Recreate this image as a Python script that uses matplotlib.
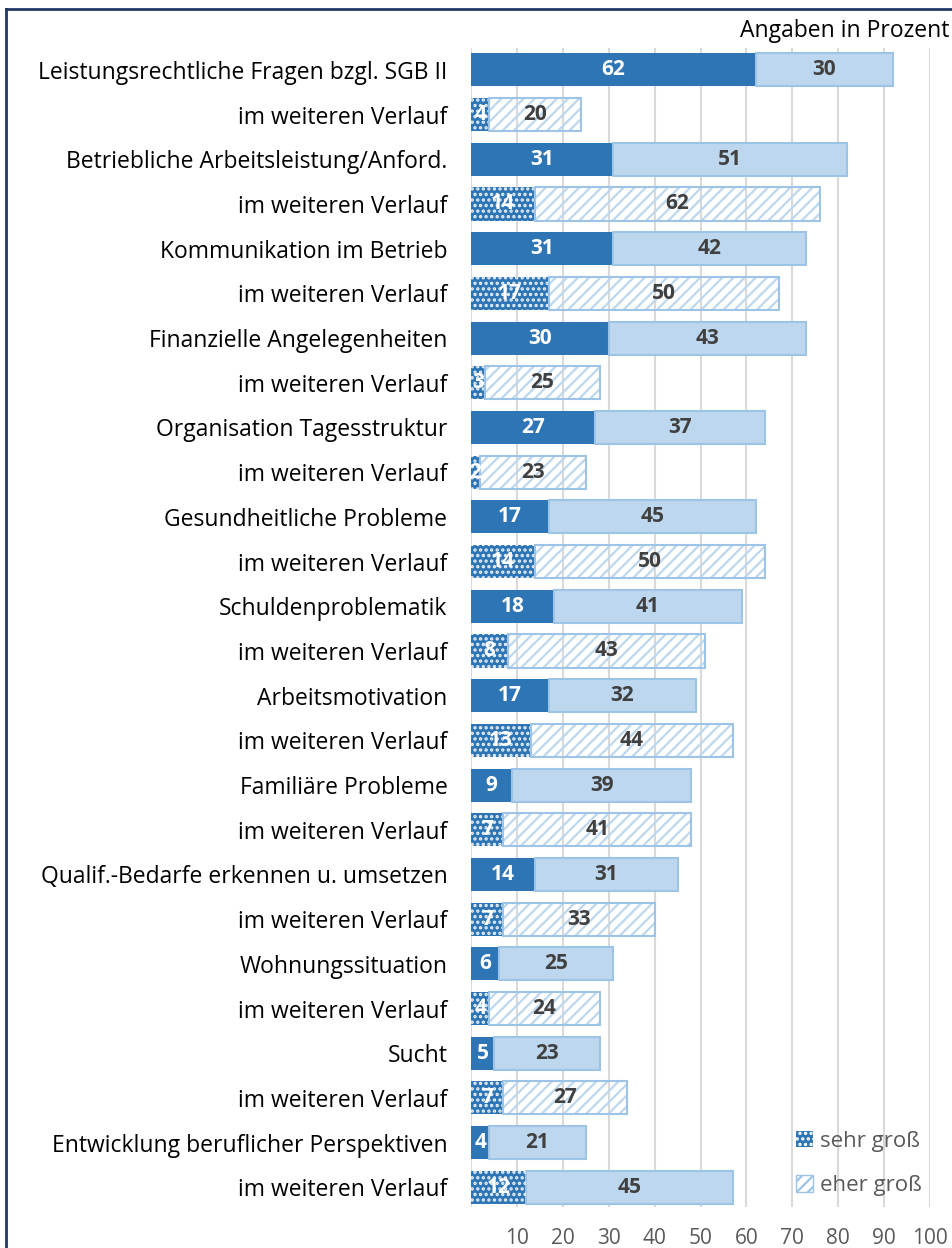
import numpy as np
import matplotlib.pyplot as plt
from matplotlib.lines import Line2D
from matplotlib.patches import Patch

plt.rcParams['font.family'] = ['Open Sans', 'DejaVu Sans']
plt.rcParams['hatch.linewidth'] = 1.6

labels = [
    "Leistungsrechtliche Fragen bzgl. SGB II", "im weiteren Verlauf",
    "Betriebliche Arbeitsleistung/Anford.", "im weiteren Verlauf",
    "Kommunikation im Betrieb", "im weiteren Verlauf",
    "Finanzielle Angelegenheiten", "im weiteren Verlauf",
    "Organisation Tagesstruktur", "im weiteren Verlauf",
    "Gesundheitliche Probleme", "im weiteren Verlauf",
    "Schuldenproblematik", "im weiteren Verlauf",
    "Arbeitsmotivation", "im weiteren Verlauf",
    "Familiäre Probleme", "im weiteren Verlauf",
    "Qualif.-Bedarfe erkennen u. umsetzen", "im weiteren Verlauf",
    "Wohnungssituation", "im weiteren Verlauf",
    "Sucht", "im weiteren Verlauf",
    "Entwicklung beruflicher Perspektiven", "im weiteren Verlauf",
]
sehr_gross = [62, 4, 31, 14, 31, 17, 30, 3, 27, 2, 17, 14, 18, 8,
              17, 13, 9, 7, 14, 7, 6, 4, 5, 7, 4, 12]
eher_gross = [30, 20, 51, 62, 42, 50, 43, 25, 37, 23, 45, 50, 41, 43,
              32, 44, 39, 41, 31, 33, 25, 24, 23, 27, 21, 45]
xticks = [10, 20, 30, 40, 50, 60, 70, 80, 90, 100]

DARK = '#2E75B6'
LIGHT = '#BDD7EE'
LIGHT_EDGE = '#9DC3E6'
TXT = '#404040'

fig = plt.figure(figsize=(9.52, 12.48), dpi=100)
ax = fig.add_axes([471/952, 41/1248, (930-471)/952, (1207-48)/1248])

y = np.arange(len(labels))
h = 0.74
for i in range(len(labels)):
    a, b = sehr_gross[i], eher_gross[i]
    later = labels[i].startswith("im weiteren")
    # dunkler Teil
    ax.barh(y[i], a, height=h, color=DARK, lw=0, zorder=2)
    if later:
        ax.barh(y[i], a, height=h, fill=False, hatch='...', edgecolor='#E8F0F8', lw=0, zorder=3)
    # heller Teil (letzte Zeile im Original ohne Schraffur)
    if later and i != len(labels) - 1:
        ax.barh(y[i], b, left=a, height=h, fill=False, hatch='///', edgecolor=LIGHT, lw=0, zorder=2)
        ax.barh(y[i], b, left=a, height=h, fill=False, edgecolor=LIGHT_EDGE, lw=1.5, zorder=3)
    else:
        ax.barh(y[i], b, left=a, height=h, color=LIGHT, edgecolor=LIGHT_EDGE, lw=1.5, zorder=2)
    ax.text(a / 2, y[i], str(a), ha='center', va='center', color='white',
            fontsize=15, fontweight='bold', zorder=5)
    ax.text(a + b / 2, y[i], str(b), ha='center', va='center', color=TXT,
            fontsize=15, fontweight='bold', zorder=5)

ax.set_xlim(0, 100)
ax.set_ylim(25.44, -0.49)
ax.set_xticks([0] + xticks, [''] + [str(t) for t in xticks])
ax.set_yticks(y, labels)
ax.tick_params(axis='y', length=0, pad=17, labelsize=16.5, labelcolor='black')
ax.tick_params(axis='x', length=0, pad=15, labelsize=15, labelcolor='#595959')
ax.grid(axis='x', color='#D9D9D9', lw=1.5, zorder=0)
ax.set_axisbelow(True)
for s in ax.spines.values():
    s.set_visible(False)

fig.text(949/952, 1 - 31/1248, "Angaben in Prozent", ha='right', va='center', fontsize=16.5)

handles = [
    Patch(facecolor=DARK, edgecolor='white', hatch='...', lw=0),
    Patch(facecolor='white', edgecolor=LIGHT_EDGE, hatch='///', lw=1),
]
leg = ax.legend(handles, ['sehr groß', 'eher groß'], loc='lower left',
                bbox_to_anchor=(0.665, -0.008), frameon=False, fontsize=16,
                handlelength=0.75, handleheight=0.75, handletextpad=0.3,
                labelspacing=1.05, labelcolor='#595959')

fig.add_artist(Line2D([6/952, 6/952], [0, 1 - 9/1248], color='#1F3864', lw=2))
fig.add_artist(Line2D([6/952, 1], [1 - 9/1248, 1 - 9/1248], color='#1F3864', lw=2))

fig.savefig('out.png', dpi=100)
